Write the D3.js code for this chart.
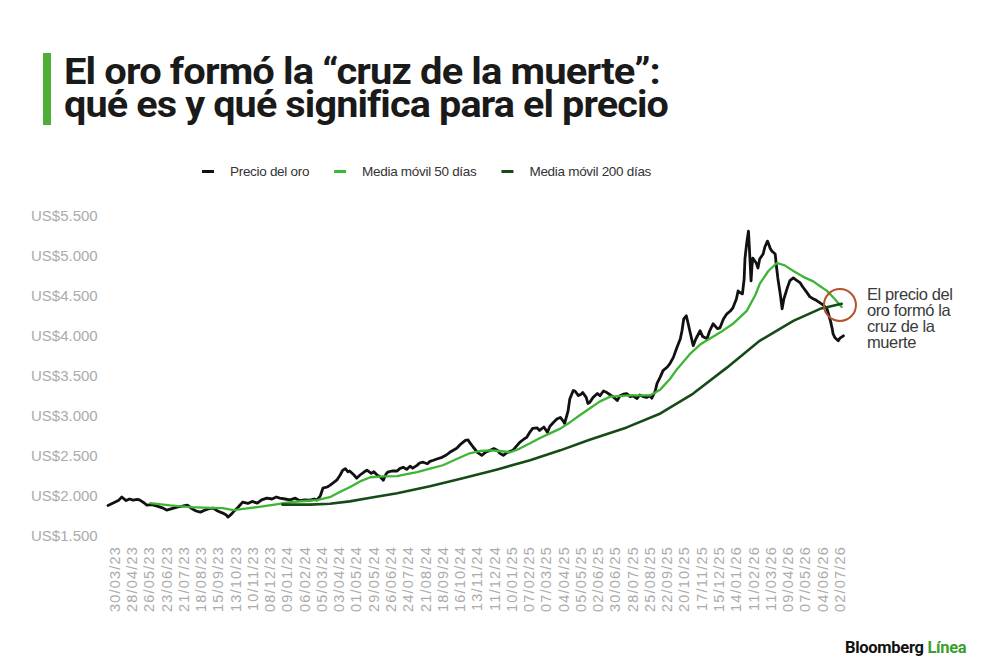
<!DOCTYPE html>
<html>
<head>
<meta charset="utf-8">
<script src="https://cdn.jsdelivr.net/npm/d3@7"></script>
<style>
  body { margin: 0; background: #fff; }
  svg { display: block; }
</style>
</head>
<body>
<svg id="chart" width="1000" height="660"></svg>
<script>
// sesiones bursátiles (0 = primer dato) y valores
const tickLabels = ["30/03/23","28/04/23","26/05/23","23/06/23","21/07/23","18/08/23","15/09/23","13/10/23","10/11/23","08/12/23",
  "09/01/24","06/02/24","05/03/24","03/04/24","01/05/24","29/05/24","26/06/24","24/07/24","21/08/24","18/09/24","16/10/24","13/11/24","11/12/24",
  "10/01/25","07/02/25","07/03/25","04/04/25","05/05/25","02/06/25","30/06/25","28/07/25","25/08/25","22/09/25","20/10/25","17/11/25","15/12/25",
  "14/01/26","11/02/26","11/03/26","09/04/26","07/05/26","04/06/26","02/07/26"];
const firstTickSession = 7;
const sessionsPerTick = 20;

const priceSession = [0,6,12,16,21,25,29,34,37,42,45,51,57,63,68,74,80,86,92,97,102,107,112,117,122,127,133,137,139,143,145,151,156,162,167,173,178,184,190,195,199,205,211,217,222,228,234,239,242,246,249,254,257,262,265,269,272,275,278,280,285,288,292,297,300,305,308,312,315,319,322,324,329,335,338,342,346,350,353,358,361,365,370,373,377,381,387,392,396,400,404,409,414,417,419,423,428,431,433,438,443,447,451,454,458,462,466,469,474,477,482,485,489,492,497,500,505,509,512,516,520,524,527,529,533,535,539,541,545,548,550,554,556,558,562,567,570,574,578,582,585,590,593,597,601,605,608,613,616,620,624,628,630,634,636,640,643,648,651,655,659,663,665,667,670,672,674,678,681,686,689,694,697,701,706,709,713,717,721,724,728,730,732,735,737,738,740,742,743,745,746,747,751,753,755,759,761,764,766,767,769,773,774,776,779,781,783,787,790,794,797,802,805,810,813,817,821,825,828,831,833,835,837,839,840,842,846,848,852];
const priceValue = [1870,1900,1930,1975,1930,1950,1936,1945,1935,1900,1874,1880,1860,1840,1811,1830,1849,1860,1874,1830,1800,1786,1810,1830,1836,1800,1774,1750,1724,1760,1786,1850,1911,1895,1920,1898,1940,1961,1950,1975,1961,1950,1940,1960,1930,1940,1935,1950,1936,1990,2085,2100,2120,2160,2185,2250,2310,2330,2290,2300,2250,2210,2250,2290,2310,2270,2290,2247,2230,2185,2260,2285,2300,2300,2330,2347,2320,2360,2335,2370,2400,2410,2390,2420,2434,2450,2471,2500,2534,2560,2584,2640,2683,2690,2658,2600,2534,2510,2496,2540,2558,2580,2560,2520,2496,2530,2545,2558,2620,2658,2700,2720,2790,2832,2840,2807,2850,2783,2860,2907,2950,2970,2930,2895,3050,3200,3306,3300,3243,3260,3281,3220,3144,3156,3220,3268,3240,3300,3281,3250,3230,3181,3240,3260,3268,3230,3240,3206,3250,3230,3219,3240,3210,3300,3393,3480,3555,3600,3642,3720,3841,3950,4053,4200,4240,4150,4053,3866,3950,4053,3980,3953,4050,4140,4080,4090,4200,4265,4300,4340,4450,4551,4530,4514,4700,4962,5150,5298,5100,4676,4850,4962,4900,4838,4950,5012,5100,5174,5120,5087,5050,5012,4900,4713,4500,4327,4450,4589,4680,4713,4690,4651,4600,4526,4480,4452,4430,4402,4380,4350,4327,4250,4177,4080,4016,3970,3928,3960,3990];

const ma50Session = [49,72,95,118,133,145,159,173,193,211,228,242,257,269,280,292,304,319,335,346,358,373,388,404,419,431,443,454,466,477,489,500,512,524,535,547,558,570,582,605,628,640,651,659,674,686,697,709,724,740,750,755,765,775,784,794,805,817,825,833,842,850];
const ma50Value = [1898,1870,1849,1840,1836,1811,1830,1849,1880,1911,1925,1936,1973,2040,2098,2170,2222,2232,2235,2260,2285,2330,2372,2450,2521,2550,2558,2550,2534,2580,2646,2710,2770,2830,2907,3000,3082,3170,3230,3245,3245,3320,3450,3570,3760,3880,3953,4030,4140,4302,4500,4638,4800,4900,4870,4800,4730,4670,4610,4551,4450,4350];

const ma200Session = [202,234,257,280,304,335,373,411,451,489,524,558,601,640,678,717,755,794,825,850];
const ma200Value = [1880,1880,1890,1920,1965,2023,2110,2210,2320,2434,2558,2690,2845,3019,3268,3592,3928,4177,4327,4390];

const yTicks = [1500,2000,2500,3000,3500,4000,4500,5000,5500];

const crossSession = 848;
const crossValue = 4375;
const noteLines = ["El precio del","oro formó la","cruz de la","muerte"];

const series = [
  { name: "Precio del oro", color: "#111111", width: 2.8, s: priceSession, v: priceValue },
  { name: "Media móvil 50 días", color: "#3db535", width: 2.3, s: ma50Session, v: ma50Value },
  { name: "Media móvil 200 días", color: "#164a17", width: 2.6, s: ma200Session, v: ma200Value }
];

const svg = d3.select("#chart");
svg.append("rect").attr("width", 1000).attr("height", 660).attr("fill", "#fff");

// título
svg.append("rect").attr("x", 43).attr("y", 53).attr("width", 8).attr("height", 72).attr("fill", "#4caf37");
const title = svg.append("g")
  .style("font-family", "Roboto, 'Liberation Sans', sans-serif")
  .style("font-weight", 700)
  .style("font-size", "37px")
  .attr("letter-spacing", "-0.8px")
  .attr("fill", "#1a1a1a");
title.append("text").attr("x", 64).attr("y", 84)
  .attr("textLength", 596).attr("lengthAdjust", "spacingAndGlyphs")
  .text("El oro formó la “cruz de la muerte”:");
title.append("text").attr("x", 64).attr("y", 117)
  .attr("textLength", 604).attr("lengthAdjust", "spacingAndGlyphs")
  .text("qué es y qué significa para el precio");

// leyenda
const legend = svg.append("g")
  .style("font-family", "'Liberation Sans', Arial, sans-serif")
  .style("font-size", "13.5px");
let lx = 202;
series.forEach(d => {
  legend.append("rect").attr("x", lx).attr("y", 170).attr("width", 12).attr("height", 3).attr("fill", d.color);
  const t = legend.append("text").attr("x", lx + 28).attr("y", 176).attr("fill", "#333")
    .attr("letter-spacing", "-0.3px").text(d.name);
  lx += 28 + t.node().getComputedTextLength() + 25;
});

// escalas
const x = d3.scaleLinear().domain([0, 855]).range([108, 846]);
const y = d3.scaleLinear().domain([1500, 5500]).range([535, 215]);

const loc = d3.formatLocale({ decimal: ",", thousands: ".", grouping: [3], currency: ["US$", ""] });
const fmt = loc.format("$,");

const yAxis = svg.append("g").attr("transform", "translate(31,0)")
  .call(d3.axisLeft(y).tickValues(yTicks).tickFormat(fmt).tickSize(0));
yAxis.select(".domain").remove();
yAxis.selectAll("text")
  .attr("x", 0).attr("text-anchor", "start").attr("dy", "0.35em")
  .attr("fill", "#ababab")
  .style("font-family", "'Liberation Sans', Arial, sans-serif")
  .style("font-size", "15px");

const tickSessions = tickLabels.map((d, i) => firstTickSession + sessionsPerTick * i);
const xAxis = svg.append("g").attr("transform", "translate(0,546)")
  .call(d3.axisBottom(x).tickValues(tickSessions)
    .tickFormat((d, i) => tickLabels[i]).tickSize(0));
xAxis.select(".domain").remove();
xAxis.selectAll("text")
  .attr("transform", "rotate(-90)")
  .attr("x", 0).attr("y", 0).attr("dy", "0.36em")
  .attr("text-anchor", "end")
  .attr("fill", "#ababab")
  .attr("letter-spacing", "1.2px")
  .style("font-family", "'Liberation Sans', Arial, sans-serif")
  .style("font-size", "14.5px");

// líneas
const line = d3.line().x(d => x(d[0])).y(d => y(d[1])).curve(d3.curveLinear);
series.forEach(d => {
  svg.append("path")
    .datum(d.s.map((s, i) => [s, d.v[i]]))
    .attr("fill", "none")
    .attr("stroke", d.color)
    .attr("stroke-width", d.width)
    .attr("stroke-linejoin", "round")
    .attr("stroke-linecap", "round")
    .attr("d", line);
});

// anotación
svg.append("circle")
  .attr("cx", x(crossSession)).attr("cy", y(crossValue)).attr("r", 16)
  .attr("fill", "none").attr("stroke", "#b5512b").attr("stroke-width", 2);
const note = svg.append("text")
  .attr("x", 867).attr("y", 300)
  .attr("fill", "#3a3a3a")
  .attr("letter-spacing", "-0.4px")
  .style("font-family", "'Liberation Sans', Arial, sans-serif")
  .style("font-size", "16.5px");
noteLines.forEach((l, i) => {
  note.append("tspan").attr("x", 867).attr("dy", i === 0 ? 0 : 16).text(l);
});

// logo
const logo = svg.append("text").attr("x", 845).attr("y", 653)
  .style("font-family", "Roboto, 'Liberation Sans', sans-serif")
  .style("font-weight", 700)
  .style("font-size", "16.5px")
  .attr("letter-spacing", "-0.3px");
logo.append("tspan").attr("fill", "#111").text("Bloomberg ");
logo.append("tspan").attr("fill", "#3a9f2c").text("Línea");
</script>
</body>
</html>
